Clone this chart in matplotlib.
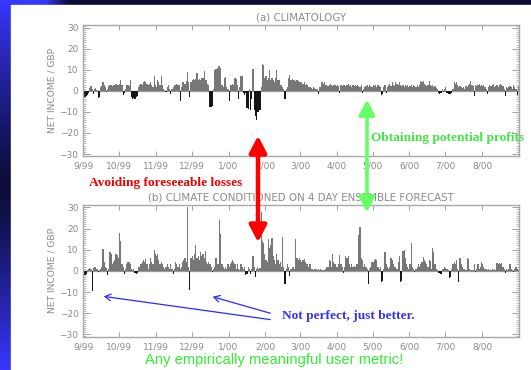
import numpy as np
import matplotlib
matplotlib.use('Agg')
import matplotlib.pyplot as plt
from matplotlib.patches import FancyArrowPatch, Rectangle
from matplotlib.ticker import MultipleLocator

W, H = 531, 370

month_labels = ['9/99', '10/99', '11/99', '12/99', '1/00', '2/00', '3/00',
                '4/00', '5/00', '6/00', '7/00', '8/00']
month_lengths = [30, 31, 30, 31, 31, 29, 31, 30, 31, 30, 31, 31]

# (a) climatology, daily net income (GBP)
clim_sep = [-2.5, -3, -2.5, -2, -1, 1.5, 2.5, 1, -1.5, 1, 1.5, 0.5, -3.5, -3, 2,
            2.5, 4, 3, 2, -0.5, 1, 2.5, 3, 3, 2.5, 3, 3, 3.5, 3, 3]
clim_oct = [3.5, 5, 3, -2, -1, 1, 3, 3, 2.5, 5, -3, -4, -3.5, -4, -3, -2.5, 2, 3,
            3.5, 3, 4, 4.5, 4, 3.5, 3, 3.5, 4, 3, 2, 7, 3]
clim_nov = [2, 5, 4, 3, 7, 3, 1, 0.5, -0.5, 2, 3, 1, -1.5, 1, 2, 3, 3, 3.5, 3, 3,
            -5, 2, 4, 4, 3.5, 4.5, 9, 4, -3, 4]
clim_dec = [5, 5.5, 5, 5.5, 8.5, 5, 5.5, 5, 6, 6, 9.5, 5, 5, 3.5, 3, -7.5, -7.5,
            -7, 1, 10, 10.5, 11, 12, 12, 11, 3, 2, 6, 6.5, 2, 1]
clim_jan = [-5, 3, 3, 3.5, 3, 6, 5.5, 3, -4, 2, 7, 7, -1, -2, -1, -8, -8.5, 1, -9,
            -4, 10.5, -9, -12, -14, -10, -10, -9, 2, 13, 12.5, 6]
clim_feb = [7, 5, 6, 10, 5, 6, 5, 4, 6, 10, 5, 5, 3, 3, 2, 1, -4, 1, 2, 6, 7.5, 5,
            5.5, 5, 5, 4.5, 5, 4.5, 4]
clim_mar = [4, 4, 3.5, 4, 3, 3.5, 3, 2, 2, 1.5, 1, 2, 1.5, 1, 1, -1.5, 2, 2, 4,
            3.5, 4, 3, 3, 2.5, 3, 3.5, 3, 2.5, 3, 3, 2.5]
clim_apr = [3, 2.5, -1, 3, 2.5, 3, 3, 2.5, 3, 3.5, 2.5, 3, 2, 3, 2.5, 3, 2.5, 3,
            2.5, 2, 3, -1, 1, 2, 2.5, 3, 2, 3, 2.5, 2]
clim_may = [3, 2.5, 3, 2, 3, 2.5, 2, -2, -1.5, 2, 3, -1, 2, 3, 3.5, 2.5, 4, 3,
            2.5, 4, 3.5, 3, 4, 3, 2.5, 3, 2, 3, 2.5, 3, 2]
clim_jun = [2.5, 3, 2, 3, 2.5, 2, 3, 2, 3, 4.5, 4, 4.5, 3.5, 3, 2.5, 3, 4.5, 3,
            2.5, 3, 2, 2.5, 1.5, 1, -1, -1.5, -1, 1, -0.5, 1]
clim_jul = [2, -1, -1.5, -1.5, -1.5, -1, 1, 4, 3.5, 4, 3, 2, 2.5, 2, 1.5, 2, 1,
            2.5, 2, 3, 3.5, 4.5, 3, 2.5, -2.5, 3, 2.5, 3, 3.5, 2.5, 3]
clim_aug = [2.5, 3, 2, 1, -1.5, 2, 3, 2.5, 3, 3.5, 2, 2.5, 3, 2, 3, 3.5, 3, 2.5,
            1, -2.5, 2, 1.5, 2, 2.5, 2, 1, 3, 2, 1, -2, 2.5]

# (b) climate conditioned on 4 day ensemble forecast
fc_sep = [-1.5, -2, -1.5, 0.5, 1, 1.5, 1, -9.5, 1.5, 2, 2, 1, -0.5, 0.5, 1, 2,
          10.5, 4, 2, 1.5, -2, 1, 9, 8, 3, 4, 5, 8, 7.5, 6]
fc_oct = [18, 14, 3, 2, -1.5, 1, 3, 4, 4, 3, 1, 0.5, 1, -1, -1.5, -1, 2, 2, 3, 4,
          5, 4, 5.5, 3, 1, 3, 6, 4, 3, 10, 8]
fc_nov = [7, 8, 5, 3, 4, 3, 2, 1, 2, 3, 2, 1, 3, 1, -1.5, 1, 4, 3, 2, 3, 1, 2, 4,
          5, 6, 4, 30, 2, -9, 6]
fc_dec = [7, 5, 8, 12, 6, 7, 5, 9, 7, 8, 6, 9.5, 4, 3, 4, 3, 2, -0.5, 1, 2, 6, 3,
          3, 24, 17.5, 3, 2, 1, 2, 1, 3]
fc_jan = [2, 3, 4, 5, 4, 3, 1, 3, 1, 0.5, 3, 2, 1, 2, -2, -1.5, 2, 1, -1.5, 1, 7,
          2, -3, 1, 2, 1, 1.5, 28, 14, 13, 8]
fc_feb = [5, 4, 15, 11, 12, 15.5, 7, 5, 3, 8, 5, 3, 4, 2, 16, 2, -6, 1, 3, 2,
          -2.5, 1, 2, 2, 1, 15, 6, 5, 6]
fc_mar = [5, 4, 5, 5.5, 4, 3, 3, 2, 3, 1, 1, 0.5, 1, 1, 0.5, 1, 0.5, 1, 0.5, 0.5,
          0.5, 1, 2, 2, 5, 4.5, 2, 8, 4, 3, 2]
fc_apr = [2, 3, 7.5, 3, 2, -1, 2, 7, 6, 7, 3, 2, 3, 2, 2.5, 2, 3, 3, 17, 20.5, 6,
          5, 2, 3, 2, 1, -6, 1, 2, 4]
fc_may = [4, 5, 5.5, 5, 2, 1, 2, -5.5, -5, 1, 9, 3, 2, 1, 2, 6, 5, 3, 2, 2, 1, 4,
          7, -5.5, -5, 9.5, 10, 6, 3, 2, 1]
fc_jun = [3, 13, 2, 1, -0.5, 1, 2, 3, 2, 3, 4, 6.5, 5, 4, 3, 2, 5, 4.5, 1, 11, 9,
          3, 1, 0.5, -1, -1, -1.5, 1, 1, 2]
fc_jul = [1.5, 1, 0.5, -3.5, -3, 1, 3, 4, 3, 5, 1, -5.5, 6, 3, 2, 1, 1, 0.5, 6,
          5.5, 1, 0.5, 0.5, 0.5, 3, -0.5, 1, 3, 1, 2, 4]
fc_aug = [3, 2, 1, 1, 0.5, 1, 0.5, 0.5, 1, 0.5, 1, 0.5, 3.5, 3, 3.5, 3, 3.5, 2,
          1, -1, 1, 0.5, 1, 3, 1, 0.5, -0.5, 1, 2, 1, 0.5]

climatology = np.array(clim_sep + clim_oct + clim_nov + clim_dec + clim_jan +
                       clim_feb + clim_mar + clim_apr + clim_may + clim_jun +
                       clim_jul + clim_aug)
forecast = np.array(fc_sep + fc_oct + fc_nov + fc_dec + fc_jan + fc_feb +
                    fc_mar + fc_apr + fc_may + fc_jun + fc_jul + fc_aug)

GREY = '#8a8a8a'
POS = '#777777'
NEG = '#151515'


def px(x, y):
    # picture pixels (top-left origin) -> figure fraction
    return (x / W, 1 - y / H)


fig = plt.figure(figsize=(W / 100, H / 100), dpi=100)
fig.patch.set_facecolor('white')

# slide background: blue gradient down the left edge and a dark band on top
bg = fig.add_axes([0, 0, 1, 1], zorder=-10)
yy, xx = np.mgrid[0:H, 0:W]
v = np.abs(yy - H / 2) / (H / 2)
h = np.clip((70 - xx) / 25, 0, 1)
navy = np.array([12, 12, 55]) / 255
blue = np.array([55, 55, 255]) / 255
grad = navy + (blue - navy) * (v * h)[..., None] ** 1.2
bg.imshow(grad, aspect='auto', extent=[0, W, H, 0])
bg.add_patch(Rectangle((11, 5), W - 11, H - 5, color='white'))
bg.set_xlim(0, W)
bg.set_ylim(H, 0)
bg.axis('off')

month_starts = np.concatenate([[0], np.cumsum(month_lengths)[:-1]])
n_days = sum(month_lengths)


def panel(rect, values, title, ylim):
    ax = fig.add_axes(rect)
    days = np.arange(len(values))
    colors = np.where(values >= 0, POS, NEG)
    ax.axhline(0, color='#999999', lw=0.9, zorder=1)
    ax.bar(days, values, width=1.0, align='edge', color=colors, linewidth=0,
           zorder=2)
    ax.set_xlim(0, n_days)
    ax.set_ylim(*ylim)
    ax.set_xticks(month_starts)
    ax.set_xticklabels(month_labels)
    ax.set_yticks([-30, -20, -10, 0, 10, 20, 30])
    ax.yaxis.set_minor_locator(MultipleLocator(1))
    ax.tick_params(axis='both', which='both', direction='in', colors='#a0a0a0',
                   labelcolor=GREY, labelsize=6.5, top=True, right=True)
    ax.tick_params(axis='y', which='major', length=5, width=0.7)
    ax.tick_params(axis='y', which='minor', length=2.5, width=0.5)
    ax.tick_params(axis='x', which='major', length=3.5, width=0.7, pad=4.5)
    for s in ax.spines.values():
        s.set_color('#a8a8a8')
        s.set_linewidth(1.0)
    ax.set_title(title, fontsize=7.4, color=GREY, pad=3)
    ax.set_ylabel('NET INCOME / GBP', fontsize=6.6, color=GREY, labelpad=2)
    ax.set_facecolor('none')
    return ax


l, r = 83.3, 519
panel([l / W, 1 - 155.7 / H, (r - l) / W, (155.7 - 25) / H], climatology,
      '(a) CLIMATOLOGY', (-30.8, 31.3))
panel([l / W, 1 - 336.7 / H, (r - l) / W, (336.7 - 205) / H], forecast,
      '(b) CLIMATE CONDITIONED ON 4 DAY ENSEMBLE FORECAST', (-31.1, 31.1))

# annotations
red_arrow = FancyArrowPatch(px(258, 133), px(258, 245), transform=fig.transFigure,
                            arrowstyle='<|-|>,head_length=0.5,head_width=0.26',
                            mutation_scale=20, color='#ff0000', lw=3.2, zorder=20)
green_arrow = FancyArrowPatch(px(367, 97), px(367, 215), transform=fig.transFigure,
                              arrowstyle='<|-|>,head_length=0.45,head_width=0.24',
                              mutation_scale=20, color='#66ff66', lw=2.6, zorder=20)
fig.patches.extend([red_arrow, green_arrow])

for start, tip in [((273, 320), (101, 296)), ((273, 314), (210, 296))]:
    fig.patches.append(FancyArrowPatch(px(*start), px(*tip),
                                       transform=fig.transFigure,
                                       arrowstyle='->,head_length=0.35,head_width=0.2',
                                       mutation_scale=12, color='#2a2aff', lw=0.9,
                                       zorder=20))

serif = ['Liberation Serif', 'DejaVu Serif']
fig.text(*px(166, 183), 'Avoiding foreseeable losses', color='#ee0000',
         fontsize=9.6, fontweight='bold', family=serif, ha='center', va='center')
fig.text(*px(448, 138), 'Obtaining potential profits', color='#44e444',
         fontsize=9.6, fontweight='bold', family=serif, ha='center', va='center')
fig.text(*px(348, 316), 'Not perfect, just better.', color='#3333ee',
         fontsize=9.6, fontweight='bold', family=serif, ha='center', va='center')
fig.text(*px(274, 360), 'Any empirically meaningful user metric!', color='#33ee33',
         fontsize=10.6, family=['Liberation Sans', 'DejaVu Sans'], ha='center',
         va='center')

fig.savefig('out.png', dpi=100)
